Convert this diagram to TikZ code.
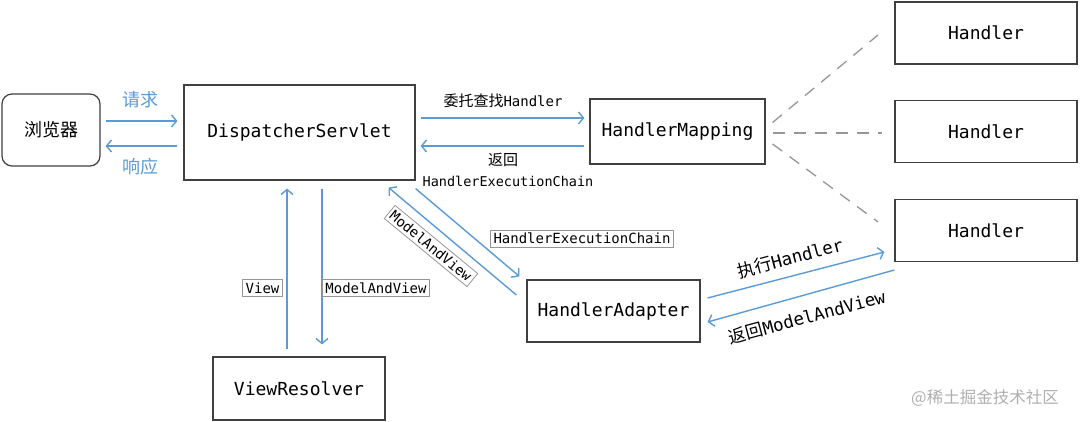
\documentclass[tikz,border=0pt]{standalone}
\usepackage{fontspec}
\setmainfont{DejaVu Sans Mono}
\newfontfamily\cjk{Noto Sans CJK SC}
\usetikzlibrary{arrows.meta,calc}
\definecolor{lblue}{RGB}{91,155,213}
\definecolor{bordc}{RGB}{64,64,64}
\definecolor{dashc}{RGB}{150,150,150}
\definecolor{lblc}{RGB}{150,150,150}
\definecolor{wmc}{RGB}{175,175,175}
\begin{document}
\begin{tikzpicture}[x={(1pt,0pt)},y={(0pt,-1pt)},
  box/.style={draw=bordc, line width=1.2pt, fill=white, inner sep=0pt, font=\fontsize{18}{20}\selectfont},
  arr/.style={draw=lblue, line width=1.4pt, -{Straight Barb[length=5pt,width=12pt]}},
  lblbox/.style={draw=lblc, line width=0.8pt, fill=white, inner sep=3pt, font=\fontsize{14}{15}\selectfont},
  lbl/.style={inner sep=0pt, font=\fontsize{14}{16}\selectfont},
  cjklbl/.style={inner sep=0pt, text=lblue, font=\cjk\fontsize{18}{20}\selectfont},
  dashl/.style={draw=dashc, line width=1.3pt, dash pattern=on 12pt off 9pt}]
\useasboundingbox (0,0) rectangle (1080,422);

% nodes
\node[box, rounded corners=10pt, minimum width=98pt, minimum height=72pt] (brow) at (51,130) {\cjk 浏览器};
\node[box, minimum width=231pt, minimum height=95pt] (disp) at (299.5,132.5) {DispatcherServlet};
\node[box, minimum width=175pt, minimum height=65pt] (hm) at (677.5,131.5) {HandlerMapping};
\node[box, minimum width=182pt, minimum height=62pt] (h1) at (986,33) {Handler};
\node[box, minimum width=182pt, minimum height=62pt] (h2) at (986,131.5) {Handler};
\node[box, minimum width=182pt, minimum height=62pt] (h3) at (986,230.5) {Handler};
\node[box, minimum width=173pt, minimum height=62pt] (ha) at (613.5,311) {HandlerAdapter};
\node[box, minimum width=172pt, minimum height=63pt] (vr) at (299,388.5) {ViewResolver};

% browser <-> dispatcher
\draw[arr] ($(brow.east)+(5,-9)$) -- ($(disp.west)+(-6,-11.5)$);
\draw[arr] ($(disp.west)+(-6,13.5)$) -- ($(brow.east)+(5,16)$);
\node[cjklbl] (lq) at (140,100) {请求};
\node[cjklbl] (lx) at (140,167) {响应};

% dispatcher <-> handler mapping
\draw[arr] ($(disp.east)+(5,-14.5)$) -- ($(hm.west)+(-5,-13.5)$);
\draw[arr] ($(hm.west)+(-5,14.5)$) -- ($(disp.east)+(5,13.5)$);
\node[lbl] (lwt) at (503,101) {{\cjk\fontsize{15}{17}\selectfont 委托查找}Handler};
\node[lbl] (lfh) at (503,160) {\cjk\fontsize{15}{17}\selectfont 返回};
\node[lbl, font=\fontsize{13.5}{15}\selectfont] (lhec) at (508,181) {HandlerExecutionChain};

% dashed lines to handlers
\coordinate (d1) at (878,35);
\coordinate (d2) at (882,133);
\coordinate (d3) at (878,222);
\draw[dashl] ($(hm.east)+(7,-9)$) -- (d1);
\draw[dashl] ($(hm.east)+(7,1.5)$) -- (d2);
\draw[dashl] ($(hm.east)+(7,12.5)$) -- (d3);

% dispatcher <-> view resolver
\draw[arr] ($(vr.north)+(-12,-7)$) -- ($(disp.south)+(-12.5,8)$);
\draw[arr] ($(disp.south)+(22.5,8)$) -- ($(vr.north)+(23,-12)$);
\node[lblbox] (lview) at (262.5,288) {View};
\node[lblbox] (lmav) at (376,288) {ModelAndView};

% dispatcher <-> handler adapter
\draw[arr] ($(disp.south east)+(0,8)$) -- ($(ha.north west)+(-7,-3)$);
\draw[arr] ($(ha.west)+(-10,-16)$) -- ($(disp.south east)+(-27,7)$);
\node[lblbox] (lhec2) at (582,238.5) {HandlerExecutionChain};
\node[lblbox, rotate=-39.5] (lmav2) at (431,246) {ModelAndView};

% handler adapter <-> handler
\draw[arr] ($(ha.east)+(7,-13)$) -- ($(h3.west)+(-10,21.5)$);
\draw[arr] ($(h3.west)+(0,39.5)$) -- ($(ha.east)+(7,11)$);
\node[lbl, rotate=15, font=\fontsize{17.5}{19}\selectfont] (lzx) at (790,258) {{\cjk 执行}Handler};
\node[lbl, rotate=15, font=\fontsize{17.5}{19}\selectfont] (lfm) at (807,317) {{\cjk 返回}ModelAndView};

% watermark
\node[inner sep=0pt, text=wmc, font=\cjk\fontsize{16.5}{18}\selectfont] (wm) at (985,398) {@稀土掘金技术社区};
\end{tikzpicture}
\end{document}
